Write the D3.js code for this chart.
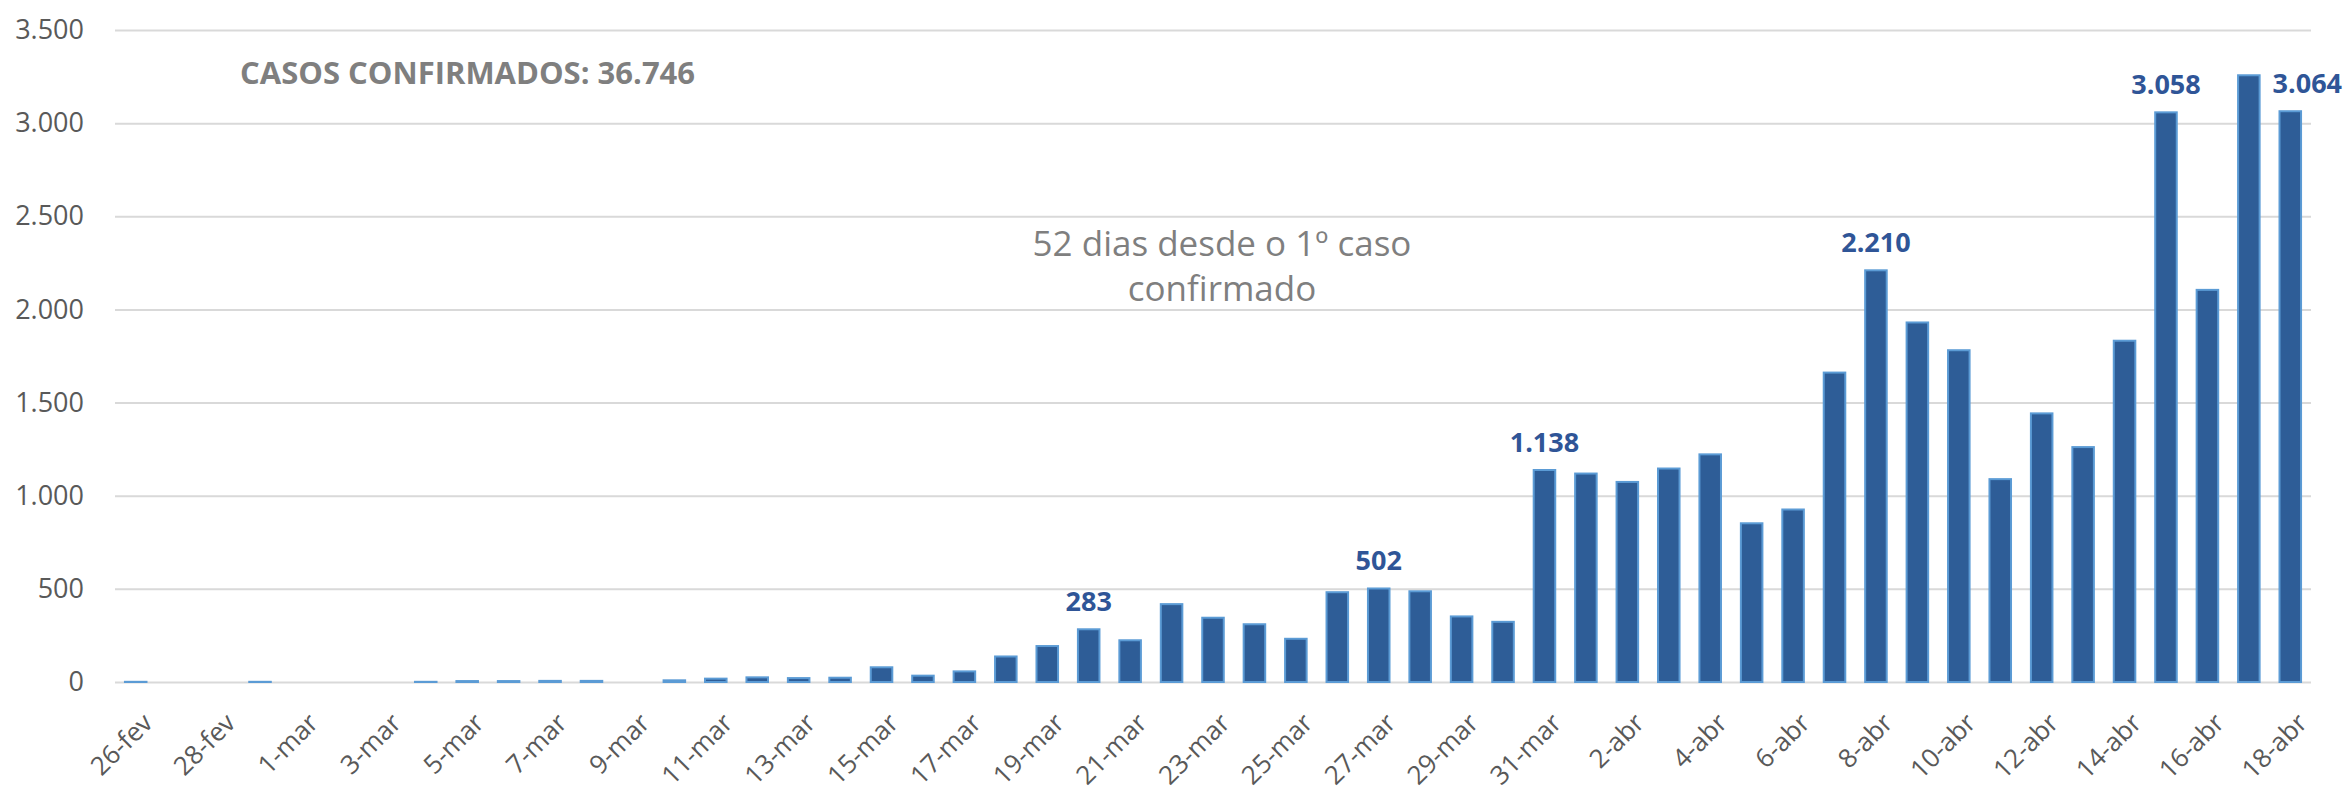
<!DOCTYPE html>
<html>
<head>
<meta charset="utf-8">
<script src="https://cdn.jsdelivr.net/npm/d3@7"></script>
<style>
  body { margin: 0; background: #ffffff; }
  svg text { font-family: "Open Sans", sans-serif; }
</style>
<title>Casos confirmados</title>
</head>
<body>
<svg id="chart" width="2351" height="786"></svg>
<script>
// daily new confirmed cases
var dates = [
  "26-fev", "27-fev", "28-fev", "29-fev",
  "1-mar", "2-mar", "3-mar", "4-mar", "5-mar", "6-mar", "7-mar", "8-mar", "9-mar", "10-mar",
  "11-mar", "12-mar", "13-mar", "14-mar", "15-mar", "16-mar", "17-mar", "18-mar", "19-mar", "20-mar",
  "21-mar", "22-mar", "23-mar", "24-mar", "25-mar", "26-mar", "27-mar", "28-mar", "29-mar", "30-mar", "31-mar",
  "1-abr", "2-abr", "3-abr", "4-abr", "5-abr", "6-abr", "7-abr", "8-abr", "9-abr", "10-abr",
  "11-abr", "12-abr", "13-abr", "14-abr", "15-abr", "16-abr", "17-abr", "18-abr"
];
var cases = [
  1, 0, 0, 1,
  0, 0, 0, 1, 5, 5, 6, 6, 0, 9,
  18, 25, 21, 23, 79, 34, 57, 137, 193, 283,
  224, 418, 345, 310, 232, 482, 502, 487, 352, 323, 1138,
  1119, 1074, 1146, 1222, 852, 926, 1661, 2210, 1930, 1781,
  1089, 1442, 1261, 1832, 3058, 2105, 3257, 3064
];
var labeledDates = ["20-mar", "27-mar", "31-mar", "8-abr", "15-abr", "18-abr"];
var yTicks = [0, 500, 1000, 1500, 2000, 2500, 3000, 3500];
var titleText = "CASOS CONFIRMADOS: 36.746";
var noteLines = ["52 dias desde o 1º caso", "confirmado"];

var ptBR = d3.formatLocale({ decimal: ",", thousands: ".", grouping: [3], currency: ["R$", ""] });
var fmt = ptBR.format(",d");

var svg = d3.select("#chart");
var W = +svg.attr("width");
var plotLeft = 115, plotRight = 2311, plotTop = 30, plotBottom = 682;

var x = d3.scaleBand().domain(dates).range([plotLeft, plotRight]).paddingInner(0.48).paddingOuter(0.24);
var y = d3.scaleLinear().domain([0, 3500]).range([plotBottom, plotTop]);

// gridlines + y labels
var yAxis = svg.append("g")
  .attr("transform", "translate(" + plotLeft + ",0)")
  .call(d3.axisLeft(y).tickValues(yTicks).tickFormat(fmt).tickSize(-(plotRight - plotLeft)).tickPadding(31));
yAxis.select(".domain").remove();
yAxis.selectAll("line").style("stroke", "#d9d9d9").style("stroke-width", "2px");
yAxis.selectAll("text")
  .style("font-size", "27px")
  .style("fill", "#595959");

// x labels, every other day
var xAxis = svg.append("g")
  .attr("transform", "translate(0," + plotBottom + ")")
  .call(d3.axisBottom(x).tickValues(dates.filter(function (d, i) { return i % 2 === 0; })).tickSize(0));
xAxis.select(".domain").remove();
xAxis.selectAll("text")
  .attr("x", 0).attr("y", 0).attr("dy", "0.35em")
  .attr("text-anchor", "end")
  .attr("transform", "translate(12,36) rotate(-45)")
  .style("font-size", "26px")
  .style("fill", "#595959");

// bars
var rows = dates.map(function (d, i) { return { date: d, value: cases[i] }; });
svg.append("g")
  .selectAll("rect")
  .data(rows.filter(function (r) { return r.value > 0; }))
  .enter()
  .append("rect")
  .attr("x", function (d) { return x(d.date); })
  .attr("y", function (d) { return y(d.value); })
  .attr("width", x.bandwidth())
  .attr("height", function (d) { return plotBottom - y(d.value); })
  .style("fill", "#2e5d97")
  .style("stroke", "#5b9bd5")
  .style("stroke-width", "2px");

// value labels
svg.append("g")
  .selectAll("text")
  .data(rows.filter(function (r) { return labeledDates.indexOf(r.date) >= 0; }))
  .enter()
  .append("text")
  .attr("x", function (d) { return x(d.date) + x.bandwidth() / 2; })
  .attr("y", function (d) { return y(d.value) - 18; })
  .attr("text-anchor", "middle")
  .style("font-size", "27px")
  .style("font-weight", "bold")
  .style("fill", "#2f5597")
  .text(function (d) { return fmt(d.value); })
  .each(function (d) {
    // if the bar to the left is taller than the label, move the label right of it
    var i = dates.indexOf(d.date);
    var b = this.getBBox();
    var sel = d3.select(this);
    if (i > 0 && y(cases[i - 1]) < b.y + b.height) {
      var prevRight = x(dates[i - 1]) + x.bandwidth();
      var shift = prevRight + 13 - b.x;
      if (shift > 0) sel.attr("x", +sel.attr("x") + shift);
    }
    b = this.getBBox();
    if (b.x + b.width > W) sel.attr("x", +sel.attr("x") - (b.x + b.width - W));
  });

// title
svg.append("text")
  .attr("x", 240)
  .attr("y", 84)
  .style("font-size", "31px")
  .style("font-weight", "bold")
  .style("fill", "#7f7f7f")
  .text(titleText);

// note
svg.append("text")
  .attr("text-anchor", "middle")
  .style("font-size", "35px")
  .style("fill", "#7f7f7f")
  .selectAll("tspan")
  .data(noteLines)
  .enter()
  .append("tspan")
  .attr("x", 1222)
  .attr("y", function (d, i) { return 256 + i * 45; })
  .text(function (d) { return d; });
</script>
</body>
</html>
